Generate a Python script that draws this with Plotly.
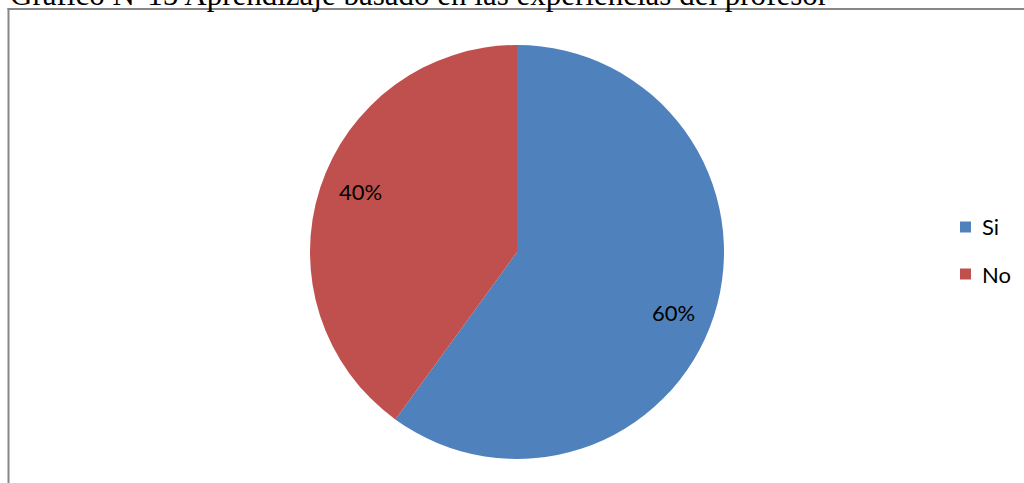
import math
import plotly.graph_objects as go

# Survey answers
categories = ["Si", "No"]
values = [60, 40]
colors = ["#4F81BD", "#C0504D"]
title_text = "Gráfico N°15 Aprendizaje basado en las experiencias del profesor"

W, H = 1024, 483
cx, cy, R = 517, 252, 207          # pie centre and radius in pixels
label_r = 0.81                     # label distance as a fraction of the radius
label_turn = math.radians(3)       # small clockwise nudge of the labels


def px(x):
    return x / W


def py(y):
    return 1 - y / H


fig = go.Figure(
    go.Pie(
        labels=categories,
        values=values,
        marker=dict(colors=colors, line=dict(width=0)),
        sort=False,
        direction="clockwise",
        rotation=0,
        textinfo="none",
        hoverinfo="label+percent",
        showlegend=False,
        domain=dict(x=[px(cx - R), px(cx + R)], y=[py(cy + R), py(cy - R)]),
    )
)

annotations = []
# percentage labels placed on each slice's mid-angle
total = sum(values)
start = 0.0
for v in values:
    mid = (start + v / 2) / total * 2 * math.pi + label_turn
    start += v
    lx = cx + label_r * R * math.sin(mid)
    ly = cy - label_r * R * math.cos(mid)
    annotations.append(dict(
        x=px(lx), y=py(ly), xref="paper", yref="paper",
        text=f"{round(v / total * 100)}%", showarrow=False,
        xanchor="center", yanchor="middle",
        font=dict(family="Lato", size=22, color="#000000"),
    ))

# legend entries
shapes = []
for i, (name, col) in enumerate(zip(categories, colors)):
    ycen = 227 + i * 47
    shapes.append(dict(
        type="rect", xref="paper", yref="paper",
        x0=px(960), x1=px(971), y0=py(ycen + 5.5), y1=py(ycen - 5.5),
        fillcolor=col, line=dict(width=0),
    ))
    annotations.append(dict(
        x=px(980), y=py(ycen), xref="paper", yref="paper",
        text=name, showarrow=False, xanchor="left", yanchor="middle",
        font=dict(family="Lato", size=22, color="#000000"),
    ))

# chart frame
shapes.append(dict(type="line", xref="paper", yref="paper",
                   x0=px(8.5), x1=px(8.5), y0=0, y1=py(8),
                   line=dict(color="#878787", width=2)))
shapes.append(dict(type="line", xref="paper", yref="paper",
                   x0=px(7.5), x1=1, y0=py(9), y1=py(9),
                   line=dict(color="#878787", width=2)))

# caption above the frame
annotations.append(dict(
    x=px(8), y=py(14), xref="paper", yref="paper",
    text=title_text, showarrow=False, xanchor="left", yanchor="bottom",
    font=dict(family="Liberation Serif", size=31, color="#000000"),
))

fig.update_layout(
    width=W, height=H,
    margin=dict(l=0, r=0, t=0, b=0),
    paper_bgcolor="white",
    plot_bgcolor="white",
    shapes=shapes,
    annotations=annotations,
)

fig.write_html("out.html")
